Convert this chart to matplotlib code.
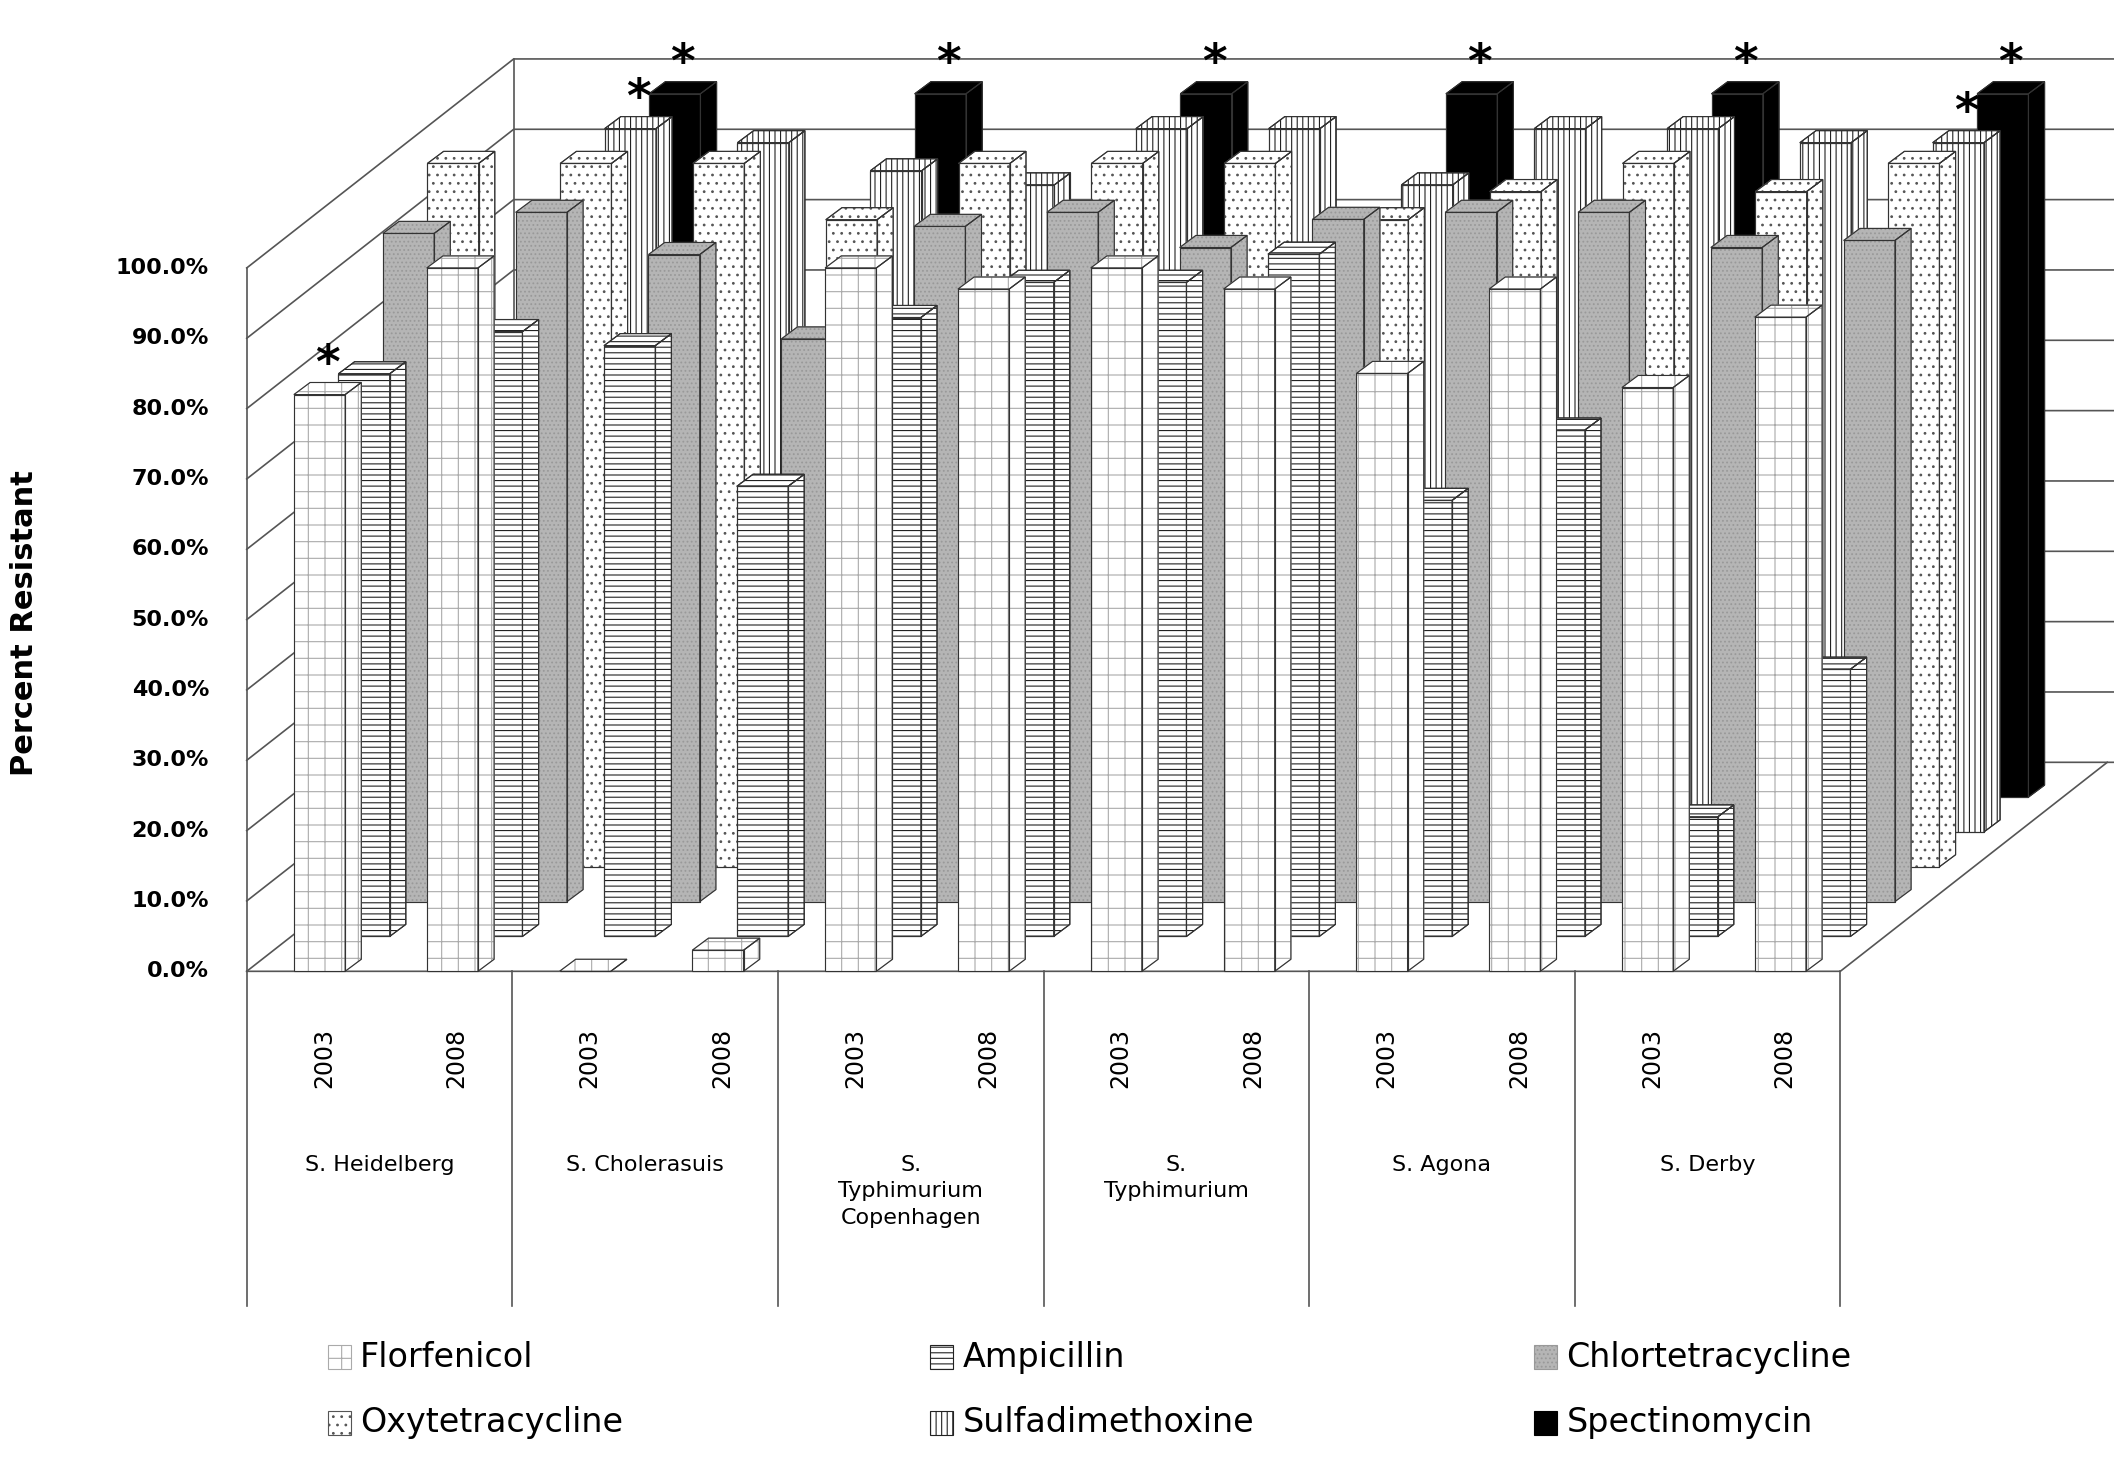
import numpy as np
import matplotlib.pyplot as plt
from matplotlib.patches import Polygon

serotypes = ["S. Heidelberg", "S. Cholerasuis", "S.\nTyphimurium\nCopenhagen",
             "S.\nTyphimurium", "S. Agona", "S. Derby"]
years = ["2003", "2008"]
drugs = ["Florfenicol", "Ampicillin", "Chlortetracycline",
         "Oxytetracycline", "Sulfadimethoxine", "Spectinomycin"]
nan = np.nan
florfenicol = [82, 100, 0, 3, 100, 97, 100, 97, 85, 97, 83, 93]
ampicillin = [80, 86, 84, 64, 88, 93, 93, 97, 62, 72, 17, 38]
chlortetra = [95, 98, 92, 80, 96, 98, 93, 97, 98, 98, 93, 94]
oxytetra = [100, 100, 100, 92, 100, 100, 100, 92, 96, 100, 96, 100]
sulfadim = [nan, 100, 98, 94, 92, 100, 100, 92, 100, 100, 98, 98]
spectino = [nan, 100, nan, 100, nan, 100, nan, 100, nan, 100, nan, 100]
values = [florfenicol, ampicillin, chlortetra, oxytetra, sulfadim, spectino]
starred = [(0, 0), (1, 4), (1, 5), (3, 5), (5, 5), (7, 5), (9, 5), (11, 5), (11, 4)]

plt.rcParams["hatch.linewidth"] = 0.8
styles = [dict(fc="white", hatch="+", ec="#aaaaaa"),
          dict(fc="white", hatch="---", ec="#222222"),
          dict(fc="#b5b5b5", hatch="....", ec="#999999"),
          dict(fc="white", hatch="..", ec="#555555"),
          dict(fc="white", hatch="|||", ec="#222222"),
          dict(fc="black", hatch=None, ec="black")]

W, H = 1568, 1092
fig = plt.figure(figsize=(21.14, 14.63), dpi=100)
ax = fig.add_axes([0, 0, 1, 1])
ax.set_xlim(0, W)
ax.set_ylim(H, 0)
ax.axis("off")

x_left, y0 = 183, 725
slot = 98.5
unit = 5.25
rdx, rdy = 33, -26
bw, ddx, ddy = 38, 12, -9
x_right = x_left + 12 * slot
bx, by = x_left + 6 * rdx, y0 + 6 * rdy  # back corner

# walls and gridlines
for k in range(11):
    v = k * 10
    yf = y0 - unit * v
    yb = by - unit * v
    ax.plot([x_left, bx, W], [yf, yb, yb], color="#555555", lw=1.2, zorder=0)
    ax.text(x_left - 28, yf, f"{v:.1f}%", ha="right", va="center",
            fontsize=16, fontweight="bold")
ax.plot([x_left, x_left], [y0, y0 - unit * 100], color="#555555", lw=1.2, zorder=0)
ax.plot([bx, bx], [by, by - unit * 100], color="#555555", lw=1.2, zorder=0)
ax.plot([x_left, x_right, x_right + 6 * rdx], [y0, y0, by], color="#555555", lw=1.2, zorder=0)

# bars, back rows first
z = 1
for r in range(5, -1, -1):
    for c in range(12):
        v = values[r][c]
        if np.isnan(v):
            continue
        st = styles[r]
        x0 = x_left + slot * c + 35 + r * rdx
        yb0 = y0 + r * rdy
        yt = yb0 - unit * v
        front = [(x0, yb0), (x0 + bw, yb0), (x0 + bw, yt), (x0, yt)]
        top = [(x0, yt), (x0 + bw, yt), (x0 + bw + ddx, yt + ddy), (x0 + ddx, yt + ddy)]
        side = [(x0 + bw, yb0), (x0 + bw + ddx, yb0 + ddy), (x0 + bw + ddx, yt + ddy), (x0 + bw, yt)]
        for poly in (side, front, top):
            ax.add_patch(Polygon(poly, closed=True, facecolor=st["fc"], edgecolor=st["ec"],
                                 hatch=st["hatch"], lw=0.8, zorder=z))
            ax.add_patch(Polygon(poly, closed=True, fill=False, edgecolor="#333333",
                                 lw=0.8, zorder=z + 0.5))
        z += 1
        if (c, r) in starred:
            ax.text(x0 + bw / 2 + 6, yt - 22, "*", ha="center", va="center",
                    fontsize=34, fontweight="bold", zorder=200)

# category axis
for k in range(7):
    xs = x_left + 2 * slot * k
    ax.plot([xs, xs], [y0, 975], color="#555555", lw=1.2)
for c in range(12):
    ax.text(x_left + slot * c + slot / 2 + 8, 790, years[c % 2], rotation=90,
            ha="center", va="center", fontsize=17)
for g, name in enumerate(serotypes):
    ax.text(x_left + 2 * slot * g + slot, 862, name, ha="center", va="top",
            fontsize=16, linespacing=1.4)
ax.text(18, 465, "Percent Resistant", rotation=90, ha="center", va="center",
        fontsize=22, fontweight="bold")

# legend
lx = [243, 690, 1138]
ly = [1013, 1062]
for i, d in enumerate(drugs):
    st = styles[i]
    x, y = lx[i % 3], ly[i // 3]
    ax.add_patch(Polygon([(x, y - 9), (x + 17, y - 9), (x + 17, y + 9), (x, y + 9)],
                         facecolor=st["fc"], edgecolor=st["ec"], hatch=st["hatch"], lw=0.8))
    ax.text(x + 24, y, d, ha="left", va="center", fontsize=24)

fig.savefig("out.png", dpi=100)
